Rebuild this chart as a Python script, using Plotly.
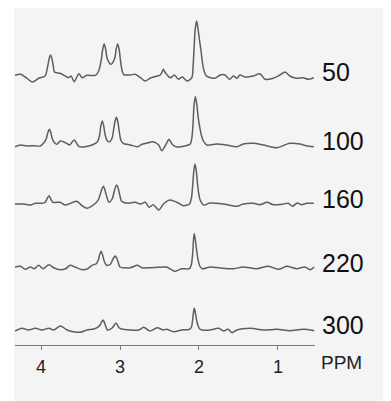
import plotly.graph_objects as go

# ---- data (ppm, amplitude above each trace's baseline) ----
labels = ["50", "100", "160", "220", "300"]
offsets = [268, 199, 141, 77, 15]

ppm_50 = [4.33, 4.26, 4.20, 4.11, 4.03, 3.95, 3.915, 3.897, 3.88, 3.863, 3.845, 3.83, 3.76, 3.71,
          3.65, 3.62, 3.58, 3.52, 3.48, 3.42, 3.31, 3.27, 3.238, 3.218, 3.20, 3.182, 3.16, 3.115,
          3.07, 3.048, 3.03, 3.012, 2.993, 2.975, 2.955, 2.87, 2.81, 2.74, 2.68, 2.62, 2.53, 2.49,
          2.465, 2.45, 2.435, 2.41, 2.36, 2.31, 2.26, 2.21, 2.15, 2.09, 2.075, 2.062, 2.048, 2.03,
          2.015, 1.995, 1.975, 1.955, 1.935, 1.91, 1.88, 1.80, 1.73, 1.67, 1.61, 1.565, 1.52, 1.48,
          1.42, 1.31, 1.227, 1.164, 1.06, 0.975, 0.91, 0.85, 0.764, 0.68, 0.616, 0.545]
amp_50 = [1.7, 2.7, 0, -5, -1.3, 1, 11, 18.5, 22, 18.5, 11, 5, 3.7, 1.7,
          -0.7, 1, -4.7, 3.3, -0.7, 1.7, 1.7, 6, 17, 28, 33, 28, 18, 12.7,
          18, 28, 33, 28, 16, 7, 2.7, 2, 2.7, -0.7, -4, -1.3, 1, 2,
          5.5, 7.7, 5.5, 2.7, -0.7, 2, -2.3, 0, -4, -0.7, 10, 28, 47, 56,
          50, 38, 27, 14, 6, 1.5, 0, -1.3, 2, 2, -2.3, 1, -1.3, 2,
          0, 1, 3.3, -2.3, -1.3, 2, 5, 1, -1.3, -0.7, -2.3, -0.7]

ppm_100 = [4.33, 4.26, 4.18, 4.09, 4.01, 3.97, 3.935, 3.915, 3.895, 3.877, 3.86, 3.84, 3.80, 3.756,
           3.69, 3.64, 3.58, 3.52, 3.44, 3.355, 3.285, 3.26, 3.243, 3.225, 3.207, 3.19, 3.16, 3.13,
           3.10, 3.08, 3.062, 3.045, 3.027, 3.01, 2.99, 2.96, 2.87, 2.78, 2.72, 2.64, 2.58, 2.51,
           2.47, 2.41, 2.395, 2.38, 2.36, 2.33, 2.29, 2.18, 2.11, 2.09, 2.075, 2.062, 2.045, 2.028,
           2.01, 1.99, 1.97, 1.944, 1.90, 1.775, 1.65, 1.52, 1.44, 1.31, 1.185, 1.016, 0.85,
           0.72, 0.64, 0.545]
amp_100 = [-0.7, 1, 0, 0.3, 0, 2.7, 7, 13, 16.7, 13.5, 8, 4.3, 1.7, 5,
           3.3, 1, 6, -0.7, -0.7, 1, 4.3, 10, 20, 25, 20.5, 12, 5, 4.3,
           8, 17, 25, 28.7, 24, 15, 6, 2.7, 1, -0.7, 1.7, 3.3, 4.3, 1,
           -4.7, 2.7, 5, 6.7, 4.5, 1, -0.7, 0, 2, 8, 22, 41, 49.3, 42,
           29, 19, 11, 5, 1, 2, 1, -0.7, 2, 2.7, 1, -1.7, 2.7,
           2, 0.3, -0.7]

ppm_160 = [4.33, 4.22, 4.135, 4.07, 3.99, 3.95, 3.925, 3.90, 3.877, 3.85, 3.76, 3.69, 3.55, 3.48,
           3.42, 3.31, 3.27, 3.245, 3.227, 3.21, 3.193, 3.17, 3.14, 3.10, 3.075, 3.057, 3.04, 3.022,
           3.00, 2.98, 2.91, 2.81, 2.74, 2.68, 2.63, 2.58, 2.51, 2.45, 2.37, 2.28, 2.20, 2.12,
           2.095, 2.08, 2.065, 2.05, 2.035, 2.018, 2.00, 1.985, 1.94, 1.86, 1.69, 1.52, 1.44, 1.31,
           1.227, 1.135, 1.06, 0.93, 0.87, 0.815, 0.756, 0.70, 0.637, 0.545]
amp_160 = [0, 0, -1, 0.7, 0.7, 1.5, 5, 8.3, 5, 1.7, 1.7, -1, 2.7, -1.7,
           -4.3, 0.7, 5, 11, 15.5, 17.7, 14.5, 8, 1.7, 5, 12, 17, 19, 15.5,
           8, 2.7, 0.7, 1.7, 0, 1.7, -3.3, -0.7, -6, 0, 4, 1.7, -1.7, 0,
           6, 18, 33, 40, 34, 20, 9, 4, -1, 1, 0, -2.3, 0, 0.7,
           -0.7, 1.7, -0.7, 0, 0.7, -2.3, 1, -0.7, 0.7, 0.7]

ppm_220 = [4.33, 4.26, 4.20, 4.135, 4.085, 4.03, 3.975, 3.90, 3.84, 3.756, 3.69, 3.63, 3.57, 3.48,
           3.41, 3.355, 3.30, 3.275, 3.257, 3.24, 3.222, 3.20, 3.17, 3.12, 3.095, 3.077, 3.06, 3.042,
           3.02, 3.00, 2.87, 2.78, 2.72, 2.62, 2.45, 2.41, 2.30, 2.22, 2.12, 2.095, 2.08, 2.07,
           2.06, 2.047, 2.03, 2.01, 1.99, 1.96, 1.86, 1.73, 1.56, 1.44, 1.27, 1.12, 0.99, 0.89,
           0.76, 0.66, 0.59, 0.54]
amp_220 = [1, 1.7, -1.3, 1, -0.7, 2.7, -0.7, 3.3, 0.3, -1.7, -0.7, 2.7, 1, -1.7,
           -0.7, 2.7, 4.3, 8, 13.5, 16.7, 13.5, 7, 2.7, 4, 8, 10.5, 12, 10,
           5, 1, 0.3, 2.7, 0.3, 0.3, 1, 1, -3.3, -0.7, -0.7, 4, 14, 27,
           34.3, 29, 18, 7.7, 2, -0.7, 1, 0, -0.7, 1, -0.7, 1.7, -1.3, 1.7,
           -0.7, 1, -1.7, 1]

ppm_300 = [4.33, 4.24, 4.16, 4.07, 3.99, 3.90, 3.84, 3.756, 3.67, 3.59, 3.50, 3.42, 3.33, 3.27,
           3.245, 3.23, 3.215, 3.20, 3.18, 3.16, 3.10, 3.08, 3.065, 3.05, 3.035, 3.015, 2.98, 2.87,
           2.76, 2.70, 2.62, 2.53, 2.45, 2.41, 2.32, 2.22, 2.12, 2.095, 2.08, 2.07, 2.06, 2.047,
           2.03, 2.01, 1.99, 1.96, 1.86, 1.75, 1.69, 1.63, 1.58, 1.52, 1.35, 1.18, 1.01, 0.85,
           0.68, 0.54]
amp_300 = [-1, 1.7, 0, 1.7, 0, 1.7, 0, 4, 0, -1.7, -2.3, 0, 1, 3.3,
           6, 8.5, 10, 8, 3.5, 0, 2, 4, 6, 6.7, 5.5, 2.5, 1, 0,
           0, 2.7, -1, 2.3, 0, 0.7, -1.7, 0, 0.7, 3, 10, 17, 21.7, 18,
           10, 4, 1, 0, 0, 1.7, -1, 0.7, -2.7, 0, 1.7, 0, 0.7, -0.7,
           0.7, -0.7]

tick_vals = [4, 3, 2, 1]
tick_text = ["4", "3", "2", "1"]
x_range = [4.33, 0.53]
axis_title = "PPM"

series = [(ppm_50, amp_50), (ppm_100, amp_100), (ppm_160, amp_160),
          (ppm_220, amp_220), (ppm_300, amp_300)]

FONT = "Arial, Liberation Sans, sans-serif"

fig = go.Figure()
for (xs, ys), off, lab in zip(series, offsets, labels):
    fig.add_trace(go.Scatter(
        x=xs, y=[off + v for v in ys], mode="lines", name=lab,
        line=dict(color="#5e5e5e", width=1.5, shape="spline", smoothing=0.8),
        hoverinfo="skip", showlegend=False))
    fig.add_annotation(x=1.017, xref="paper", y=off + 5, yref="y", text=lab,
                       showarrow=False, xanchor="left", yanchor="middle",
                       font=dict(family=FONT, size=25, color="#111111"))

fig.add_annotation(x=1.013, xref="paper", y=-0.052, yref="paper", text=axis_title,
                   showarrow=False, xanchor="left", yanchor="middle",
                   font=dict(family=FONT, size=19, color="#222222"))

# light grey panel (white strips at top and left, as in the reference)
fig.add_shape(type="rect", xref="paper", yref="paper", x0=-0.0033, x1=1.3, y0=-0.25, y1=1.05,
              fillcolor="#f4f4f4", line=dict(width=0), layer="below")

# the page body has an 8px default margin, so the figure is sized to fill the rest of the window
fig.update_layout(
    width=383, height=393,
    margin=dict(l=7, r=76, t=2, b=56),
    paper_bgcolor="white", plot_bgcolor="rgba(0,0,0,0)",
    xaxis=dict(range=x_range, tickvals=tick_vals, ticktext=tick_text,
               showgrid=False, zeroline=False, showline=True, linecolor="#7a7a7a", linewidth=1,
               ticks="outside", ticklen=4, tickcolor="#7a7a7a", ticklabelstandoff=1,
               tickfont=dict(family=FONT, size=18, color="#222222")),
    yaxis=dict(range=[0, 335], visible=False, fixedrange=True),
)

fig.write_html("out.html")
